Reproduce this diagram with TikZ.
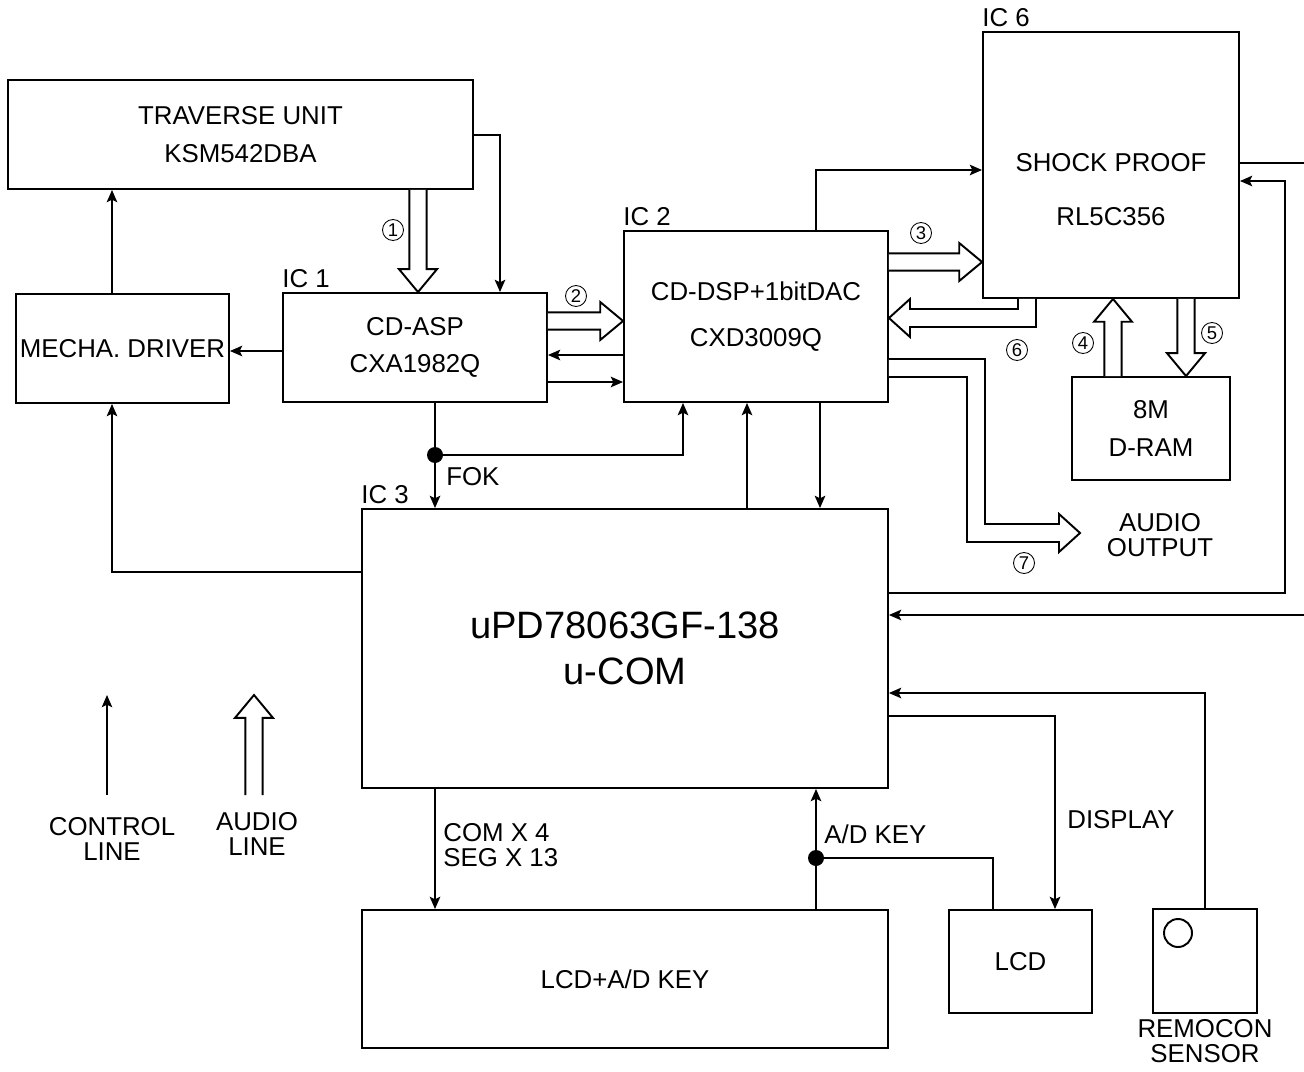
\documentclass[tikz,border=0pt]{standalone}
\usepackage{fontspec}
\setmainfont{Liberation Sans}
\usetikzlibrary{arrows.meta,calc}

% hollow (audio) arrows, vertical and horizontal
\newcommand{\audiov}[2]{%
  \draw[audio] let \p1=(#1), \p2=(#2), \n1={sign(\y2-\y1)} in
    (\x1-4.9pt,\y1) -- (\x1-4.9pt,\y2-\n1*13pt) -- (\x1-10.8pt,\y2-\n1*13pt)
    -- (\x1,\y2) -- (\x1+10.8pt,\y2-\n1*13pt) -- (\x1+4.9pt,\y2-\n1*13pt) -- (\x1+4.9pt,\y1);}
\newcommand{\audioh}[2]{%
  \draw[audio] let \p1=(#1), \p2=(#2), \n1={sign(\x2-\x1)} in
    (\x1,\y1+4.9pt) -- (\x2-\n1*13pt,\y1+4.9pt) -- (\x2-\n1*13pt,\y1+10.8pt)
    -- (\x2,\y1) -- (\x2-\n1*13pt,\y1-10.8pt) -- (\x2-\n1*13pt,\y1-4.9pt) -- (\x1,\y1-4.9pt);}

\begin{document}
\begin{tikzpicture}[
    x=0.02cm, y=-0.02cm,
    >={Stealth[length=7pt,width=6pt,inset=1.5pt]},
    every node/.style={font=\fontsize{14.7}{16}\selectfont, inner sep=0pt},
    block/.style={rectangle, draw, line width=1.1pt, align=center},
    ctl/.style={line width=1.1pt, ->},
    wire/.style={line width=1.1pt},
    audio/.style={draw, line width=1.1pt, fill=white, line join=miter},
    iclbl/.style={anchor=south west, inner ysep=2pt},
    num/.style={circle, draw, line width=0.5pt, minimum size=0.42cm, font=\fontsize{10.5}{10.5}\selectfont},
    txt/.style={align=center, font=\fontsize{14.7}{14.3}\selectfont}
]
\useasboundingbox[fill=white] (0,0) rectangle (1304,1071);

% blocks
\node[block, minimum width=9.3cm, minimum height=2.18cm, font=\fontsize{14.7}{22}\selectfont] (trav) at (240.5,134.5) {TRAVERSE UNIT\\KSM542DBA};
\node[block, minimum width=4.26cm, minimum height=2.18cm] (mecha) at (122.5,348.5) {MECHA. DRIVER};
\node[block, minimum width=5.28cm, minimum height=2.18cm, font=\fontsize{14.7}{21}\selectfont] (ic1) at (415,347.5) {CD-ASP\\CXA1982Q};
\node[block, minimum width=5.28cm, minimum height=3.42cm, font=\fontsize{14.7}{26}\selectfont] (ic2) at (756,316.5) {CD-DSP+1bitDAC\\CXD3009Q};
\node[block, minimum width=5.12cm, minimum height=5.32cm] (ic6) at (1111,165) {};
\node[align=center, font=\fontsize{14.7}{31}\selectfont] (ic6txt) at (1111,189.5) {SHOCK PROOF\\RL5C356};
\node[block, minimum width=3.16cm, minimum height=2.06cm, font=\fontsize{14.7}{21.5}\selectfont] (dram) at (1151,428.5) {8M\\D-RAM};
\node[block, minimum width=10.52cm, minimum height=5.58cm, font=\fontsize{21.7}{26.6}\selectfont] (ic3) at (625,648.5) {uPD78063GF-138\\u-COM};
\node[block, minimum width=10.52cm, minimum height=2.76cm] (keyb) at (625,979) {LCD+A/D KEY};
\node[block, minimum width=2.86cm, minimum height=2.06cm] (lcd) at (1020.5,961.5) {LCD};
\node[block, minimum width=2.08cm, minimum height=2.08cm] (remo) at (1205,961) {};
\node[circle, draw, line width=1.1pt, minimum size=0.56cm] (led) at (1178,933) {};
\node[txt, anchor=north] (remotxt) at (1205,1019) {REMOCON\\SENSOR};

% IC labels
\node[iclbl] (ic1lbl) at (ic1.north west) {IC 1};
\node[iclbl] (ic2lbl) at (ic2.north west) {IC 2};
\node[iclbl] (ic3lbl) at (ic3.north west) {IC 3};
\node[iclbl] (ic6lbl) at (ic6.north west) {IC 6};

% audio paths
\audiov{trav.south -| 418,0}{ic1.north -| 418,0}
\audioh{ic1.east |- 0,321}{ic2.west |- 0,321}
\audioh{ic2.east |- 0,262}{ic6.west |- 0,262}
\audiov{dram.north -| 1113,0}{ic6.south -| 1113,0}
\audiov{ic6.south -| 1186,0}{dram.north -| 1186,0}
\draw[audio] (ic6.south -| 1036,0) -- (1036,327) -- (910,327) -- (910,337) -- (ic2.east |- 0,318)
    -- (910,299) -- (910,309) -- (1018,309) -- (ic6.south -| 1018,0);
\draw[audio] (ic2.east |- 0,359) -- (985,359) -- (985,524) -- (1059,524) -- (1059,514) -- (1080,533)
    -- (1059,552) -- (1059,542) -- (967,542) -- (967,377) -- (ic2.east |- 0,377);
\node[txt] (aout) at (1160,535) {AUDIO\\OUTPUT};

% numbers
\node[num] (n1) at (393,230) {1};
\node[num] (n2) at (576,296) {2};
\node[num] (n3) at (921,233) {3};
\node[num] (n4) at (1083,343) {4};
\node[num] (n5) at (1212,333) {5};
\node[num] (n6) at (1017,350) {6};
\node[num] (n7) at (1024,563) {7};

% control lines
\draw[ctl] (trav.east |- 0,135) -| (ic1.north -| 500,0);
\draw[ctl] (mecha.north -| 112,0) -- (trav.south -| 112,0);
\draw[ctl] (ic1.west |- 0,351) -- (mecha.east |- 0,351);
\draw[ctl] (ic2.west |- 0,355) -- (ic1.east |- 0,355);
\draw[ctl] (ic1.east |- 0,382) -- (ic2.west |- 0,382);
\coordinate (fokdot) at (435,455);
\draw[ctl] (ic1.south -| fokdot) -- (ic3.north -| fokdot);
\draw[ctl] (fokdot) -| (ic2.south -| 683,0);
\fill (fokdot) circle[radius=0.16cm];
\node[anchor=west] (fok) at (446,477) {FOK};
\draw[ctl] (ic3.north -| 747,0) -- (ic2.south -| 747,0);
\draw[ctl] (ic2.south -| 820,0) -- (ic3.north -| 820,0);
\draw[ctl] (ic2.north -| 816,0) |- (ic6.west |- 0,170);
\coordinate (edgeA) at (1304,163);
\coordinate (edgeB) at (1304,615);
\draw[wire] (ic6.east |- edgeA) -- (edgeA);
\draw[ctl] (ic3.east |- 0,593) -| (1285,181) -- (ic6.east |- 0,181);
\draw[ctl] (edgeB) -- (ic3.east |- edgeB);
\draw[ctl] (remo.north) |- (ic3.east |- 0,693);
\draw[ctl] (ic3.east |- 0,716) -| (lcd.north -| 1055,0);
\node[anchor=west] (disp) at (1067,820) {DISPLAY};
\draw[ctl] (ic3.west |- 0,572) -| (mecha.south -| 112,0);
\draw[ctl] (ic3.south -| 435,0) -- (keyb.north -| 435,0);
\node[anchor=west, align=left, font=\fontsize{14.7}{14.3}\selectfont] (com) at (443,845) {COM X 4\\SEG X 13};
\coordinate (keydot) at (816,858);
\draw[ctl] (keyb.north -| keydot) -- (ic3.south -| keydot);
\draw[wire] (keydot) -| (lcd.north -| 993,0);
\fill (keydot) circle[radius=0.16cm];
\node[anchor=west] (adkey) at (824,834) {A/D KEY};

% legend
\coordinate (lgc0) at (107,795);
\coordinate (lgc1) at (107,695);
\draw[line width=0.7pt, ->] (lgc0) -- (lgc1);
\node[txt] (lgctxt) at (112,839) {CONTROL\\LINE};
\coordinate (lga0) at (254,795);
\coordinate (lga1) at (254,695);
\audiov{lga0}{lga1}
\node[txt] (lgatxt) at (257,834) {AUDIO\\LINE};

\end{tikzpicture}
\end{document}
